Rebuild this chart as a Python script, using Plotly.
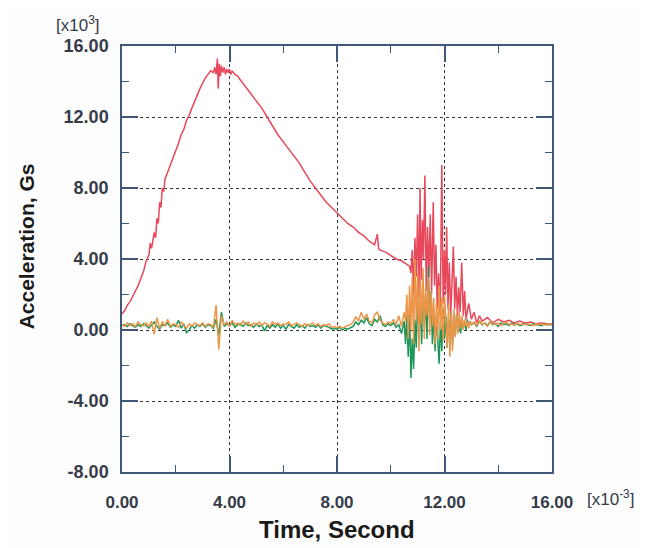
import plotly.graph_objects as go

# ---------------- data (time in 1e-3 s, acceleration in 1e3 G) ----------------
red_t = [0.0, 0.1, 0.2, 0.3, 0.4, 0.5, 0.6, 0.7, 0.8, 0.9, 1.0, 1.05, 1.1, 1.2, 1.25, 1.3, 1.35,
         1.4, 1.45, 1.5, 1.55, 1.6, 1.7, 1.8, 1.9, 2.0, 2.1, 2.2, 2.3, 2.4, 2.5, 2.6, 2.7, 2.8,
         2.9, 3.0, 3.1, 3.2, 3.3, 3.4, 3.45, 3.5, 3.55, 3.58, 3.62, 3.66, 3.7, 3.75, 3.8, 3.85,
         3.9, 3.95, 4.0, 4.05, 4.1, 4.2, 4.3, 4.4, 4.5, 4.6, 4.7, 4.8, 4.9, 5.0, 5.2, 5.4, 5.6,
         5.8, 6.0, 6.2, 6.4, 6.6, 6.8, 7.0, 7.2, 7.4, 7.6, 7.8, 8.0, 8.2, 8.4, 8.6, 8.8, 9.0,
         9.2, 9.4, 9.5, 9.55, 9.6, 9.8, 10.0, 10.2, 10.4, 10.6, 10.7, 10.75, 10.8, 10.85, 10.9,
         10.95, 11.0, 11.05, 11.09, 11.13, 11.18, 11.22, 11.27, 11.32, 11.37, 11.42, 11.47,
         11.52, 11.58, 11.63, 11.68, 11.73, 11.78, 11.84, 11.9, 11.95, 12.0, 12.04, 12.08,
         12.13, 12.18, 12.23, 12.28, 12.33, 12.38, 12.43, 12.48, 12.53, 12.58, 12.64, 12.7,
         12.75, 12.8, 12.9, 13.0, 13.1, 13.2, 13.3, 13.4, 13.6, 13.8, 14.0, 14.2, 14.4, 14.6,
         14.8, 15.0, 15.2, 15.4, 15.6, 15.8, 16.0]
red_v = [0.9, 1.1, 1.4, 1.6, 1.9, 2.2, 2.5, 2.9, 3.3, 3.9, 4.2, 4.9, 4.6, 5.5, 5.2, 6.3, 6.0,
         7.2, 6.9, 8.0, 7.8, 8.5, 8.9, 9.2, 9.6, 10.0, 10.5, 11.0, 11.3, 11.8, 12.1, 12.5, 12.9,
         13.3, 13.6, 13.9, 14.2, 14.4, 14.6, 14.5, 14.8, 14.4, 15.3, 13.6, 15.0, 14.3, 14.9,
         14.5, 14.8, 14.4, 14.7, 14.5, 14.7, 14.4, 14.6, 14.4, 14.3, 14.1, 13.9, 13.7, 13.5,
         13.3, 13.1, 12.9, 12.5, 12.0, 11.5, 11.0, 10.6, 10.2, 9.8, 9.4, 8.9, 8.4, 8.0, 7.6,
         7.2, 6.9, 6.6, 6.3, 6.0, 5.8, 5.5, 5.3, 5.0, 4.8, 5.4, 4.6, 4.5, 4.4, 4.2, 4.0, 3.9,
         3.7, 3.6, 3.2, 4.5, 2.0, 5.2, 3.0, 6.5, 1.8, 8.0, 2.8, 6.2, 4.0, 8.7, 2.2, 5.8, 3.0,
         6.5, 2.0, 7.2, 2.5, 4.8, 1.2, 3.2, 0.8, 9.3, 1.5, 4.5, 2.0, 5.8, 1.2, 3.8, 0.8, 3.0,
         4.7, 1.2, 3.0, 0.8, 2.4, 1.0, 3.8, 0.8, 2.2, 0.6, 1.5, 0.6, 1.0, 0.4, 0.8, 0.5, 0.7,
         0.4, 0.6, 0.45, 0.55, 0.4, 0.5, 0.4, 0.45, 0.35, 0.4, 0.35, 0.35]

base_t = [0.0, 0.1, 0.2, 0.3, 0.4, 0.5, 0.6, 0.7, 0.8, 0.9,
          1.0, 1.1, 1.2, 1.3, 1.4, 1.5, 1.6, 1.7, 1.8, 1.9,
          2.0, 2.1, 2.2, 2.3, 2.4, 2.5, 2.6, 2.7, 2.8, 2.9,
          3.0, 3.1, 3.2, 3.3, 3.4, 3.5, 3.6, 3.7, 3.8, 3.9,
          4.0, 4.1, 4.2, 4.3, 4.4, 4.5, 4.6, 4.7, 4.8, 4.9,
          5.0, 5.1, 5.2, 5.3, 5.4, 5.5, 5.6, 5.7, 5.8, 5.9,
          6.0, 6.1, 6.2, 6.3, 6.4, 6.5, 6.6, 6.7, 6.8, 6.9,
          7.0, 7.1, 7.2, 7.3, 7.4, 7.5, 7.6, 7.7, 7.8, 7.9,
          8.0, 8.1, 8.2, 8.3, 8.4, 8.5, 8.6, 8.7, 8.8, 8.9,
          9.0, 9.1, 9.2, 9.3, 9.4, 9.5, 9.6, 9.7, 9.8, 9.9,
          10.0, 10.1, 10.2, 10.3, 10.4, 10.5,
          10.55, 10.6, 10.65, 10.7, 10.75, 10.8, 10.85, 10.9, 10.95, 11.0,
          11.05, 11.1, 11.15, 11.2, 11.25, 11.3, 11.35, 11.4, 11.45, 11.5,
          11.55, 11.6, 11.65, 11.7, 11.75, 11.8, 11.85, 11.9, 11.95, 12.0,
          12.05, 12.1, 12.15, 12.2, 12.25, 12.3, 12.35, 12.4, 12.45, 12.5,
          12.55, 12.6, 12.65, 12.7, 12.75, 12.8, 12.85, 12.9, 12.95, 13.0,
          13.1, 13.2, 13.3, 13.4, 13.5, 13.6, 13.7, 13.8, 13.9, 14.0,
          14.1, 14.2, 14.3, 14.4, 14.5, 14.6, 14.7, 14.8, 14.9, 15.0,
          15.1, 15.2, 15.3, 15.4, 15.5, 15.6, 15.7, 15.8, 15.9, 16.0]

green_v = [0.25, 0.30, 0.20, 0.35, 0.25, 0.15, 0.30, 0.20, 0.35, 0.25,
           0.10, 0.30, 0.45, 0.20, 0.05, 0.30, 0.25, 0.40, 0.15, 0.30,
           0.20, 0.55, 0.10, 0.35, -0.15, 0.00, 0.25, 0.10, 0.30, 0.20,
           0.35, 0.15, 0.30, 0.25, 0.10, 0.60, -0.30, 1.00, 0.20, 0.35,
           0.25, 0.40, 0.15, 0.30, 0.35, 0.20, 0.40, 0.25, 0.30, 0.15,
           0.35, 0.20, 0.30, -0.05, 0.25, 0.10, 0.30, 0.15, 0.35, 0.10,
           0.25, 0.05, 0.30, 0.20, 0.10, 0.30, 0.15, 0.25, 0.10, 0.30,
           0.20, 0.25, 0.15, 0.30, 0.10, 0.25, 0.20, 0.15, 0.05, 0.10,
           0.05, 0.15, 0.00, 0.10, 0.05, 0.15, 0.20, 0.45, 0.30, 0.55,
           0.40, 0.70, 0.35, 0.25, 0.60, 0.45, 0.80, 0.30, 0.20, 0.35,
           0.25, 0.40, 0.15, 0.30, -0.20, 0.50,
           -0.8, 0.8, -1.5, 1.2, -2.7, -0.5, -2.2, 0.6, -1.0, 2.0,
           -0.3, 1.5, -0.8, 2.8, 0.2, 1.8, -0.5, 3.6, 0.5, 2.2,
           -0.8, 1.0, -1.2, 0.8, -0.6, -1.9, 0.5, -1.2, 1.2, -0.5,
           0.8, -1.0, 0.6, -0.4, 1.0, -0.8, 0.7, -0.3, 0.9, 0.0,
           0.6, -0.2, 0.7, 0.1, 0.5, 0.0, 0.6, 0.2, 0.5, 0.3,
           0.40, 0.20, 0.50, 0.30, 0.40, 0.25, 0.45, 0.30, 0.35, 0.20,
           0.40, 0.30, 0.35, 0.25, 0.40, 0.30, 0.35, 0.25, 0.30, 0.35,
           0.30, 0.25, 0.35, 0.30, 0.30, 0.25, 0.35, 0.30, 0.30, 0.30]

orange_v = [0.30, 0.20, 0.40, 0.25, 0.35, 0.20, 0.45, 0.30, 0.25, 0.40,
            0.20, 0.50, -0.25, 0.70, 0.10, 0.45, 0.25, 0.60, 0.20, 0.35,
            0.30, 0.15, 0.45, 0.25, 0.10, 0.35, 0.20, 0.40, 0.30, 0.25,
            0.40, 0.20, 0.35, 0.30, 0.15, 1.40, -1.10, 0.80, 0.30, 0.45,
            0.20, 0.55, 0.30, 0.40, 0.25, 0.50, 0.30, 0.45, 0.20, 0.40,
            0.30, 0.45, 0.25, 0.40, 0.35, 0.20, 0.45, 0.30, 0.40, 0.25,
            0.35, 0.30, 0.45, 0.25, 0.35, 0.40, 0.30, 0.20, 0.35, 0.25,
            0.30, 0.40, 0.25, 0.35, 0.20, 0.30, 0.25, 0.35, 0.15, 0.20,
            0.15, 0.20, 0.10, 0.20, 0.25, 0.30, 0.45, 0.75, 0.50, 1.00,
            0.60, 0.90, 0.50, 0.40, 0.85, 1.00, 0.55, 0.40, 0.30, 0.45,
            0.35, 0.60, 0.30, 0.80, 0.20, 1.00,
            0.5, 2.0, -0.5, 2.5, 0.0, 3.0, -0.8, 4.0, 0.5, 3.2,
            -1.2, 2.8, 0.3, 3.5, -0.5, 2.5, 0.8, 3.0, -0.3, 2.2,
            0.2, 1.8, -0.8, 1.5, -0.5, 2.5, 0.0, 1.8, -0.6, 2.0,
            0.2, -1.0, 1.5, -1.5, 1.0, -1.2, 1.2, -0.4, 0.9, -0.2,
            1.0, 0.1, 0.8, 0.0, 0.6, 0.2, 0.5, 0.1, 0.5, 0.3,
            0.45, 0.25, 0.55, 0.30, 0.40, 0.20, 0.50, 0.35, 0.30, 0.40,
            0.25, 0.35, 0.45, 0.30, 0.35, 0.25, 0.40, 0.30, 0.35, 0.30,
            0.35, 0.30, 0.25, 0.35, 0.30, 0.35, 0.30, 0.30, 0.35, 0.30]

x_ticks = [0, 4, 8, 12, 16]
x_labels = ["0.00", "4.00", "8.00", "12.00", "16.00"]
y_ticks = [-8, -4, 0, 4, 8, 12, 16]
y_labels = ["-8.00", "-4.00", "0.00", "4.00", "8.00", "12.00", "16.00"]

RED = "rgb(232,72,92)"
GREEN = "rgb(28,150,88)"
ORANGE = "rgb(236,150,74)"
AXIS = "#3f5878"
LABEL = "#353b48"
FONT = "Liberation Sans, Arial, sans-serif"

fig = go.Figure()
fig.add_trace(go.Scatter(x=red_t, y=red_v, mode="lines",
                         line=dict(color=RED, width=1.5), showlegend=False))
fig.add_trace(go.Scatter(x=base_t, y=green_v, mode="lines",
                         line=dict(color=GREEN, width=1.5), showlegend=False))
fig.add_trace(go.Scatter(x=base_t, y=orange_v, mode="lines",
                         line=dict(color=ORANGE, width=1.5), showlegend=False))

axis_common = dict(
    showline=True, linecolor=AXIS, linewidth=1.5, mirror="ticks",
    ticks="inside", ticklen=16, tickwidth=1.5, tickcolor=AXIS,
    showgrid=True, gridcolor="#333333", griddash="dot", gridwidth=1.3,
    zeroline=False,
)

fig.update_xaxes(range=[0, 16], tickmode="array", tickvals=x_ticks, ticktext=x_labels,
                 minor=dict(tickmode="linear", tick0=0, dtick=2, ticks="inside",
                            ticklen=7, tickwidth=1.2, tickcolor=AXIS, showgrid=False),
                 tickfont=dict(family=FONT, size=17, color=LABEL, weight="bold"),
                 ticklabelstandoff=14, **axis_common)
fig.update_yaxes(range=[-8, 16], tickmode="array", tickvals=y_ticks, ticktext=y_labels,
                 minor=dict(tickmode="linear", tick0=0, dtick=2, ticks="inside",
                            ticklen=7, tickwidth=1.2, tickcolor=AXIS, showgrid=False),
                 tickfont=dict(family=FONT, size=18, color=LABEL, weight="bold"),
                 ticklabelstandoff=8, **axis_common)

# The page body adds an 8px offset, so the figure is 640x540 with matching margins.
fig.update_layout(
    width=640, height=540,
    margin=dict(l=114, r=96, t=38, b=76),
    paper_bgcolor="#fdfdfd", plot_bgcolor="#ffffff",
    font=dict(family=FONT, color=LABEL),
    annotations=[
        dict(text="<b>Acceleration, Gs</b>", textangle=-90, xref="paper", yref="paper",
             x=-0.223, y=0.53, showarrow=False, font=dict(size=21, color="#1a1a1a"),
             xanchor="center", yanchor="middle"),
        dict(text="<b>Time, Second</b>", xref="paper", yref="paper",
             x=0.5, y=-0.136, showarrow=False, font=dict(size=24, color="#1a1a1a"),
             xanchor="center", yanchor="middle"),
        dict(text="[x10<sup>3</sup>]", xref="paper", yref="paper",
             x=-0.102, y=1.052, showarrow=False, font=dict(size=17, color=LABEL),
             xanchor="center", yanchor="middle"),
        dict(text="[x10<sup>-3</sup>]", xref="paper", yref="paper",
             x=1.135, y=-0.061, showarrow=False, font=dict(size=17, color=LABEL),
             xanchor="center", yanchor="middle"),
    ],
)

fig.write_html("out.html")
